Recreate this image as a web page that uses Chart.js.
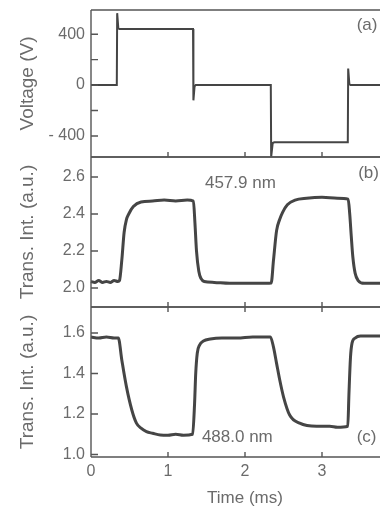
<!DOCTYPE html>
<html><head><meta charset="utf-8">
<script src="https://cdn.jsdelivr.net/npm/chart.js@4.4.0/dist/chart.umd.min.js"></script>
<style>
html,body{margin:0;padding:0;background:#fff;overflow:hidden;width:380px;height:511px;position:relative;}
canvas{position:absolute;left:0;}
</style></head><body>
<canvas id="ca" width="430" height="160" style="top:0px"></canvas>
<canvas id="cb" width="430" height="156" style="top:154px"></canvas>
<canvas id="cc" width="430" height="207" style="top:304px"></canvas>
<script>
// ---- data ----
const timeV   = [0, 0.335, 0.34, 0.355, 0.37, 1.325, 1.33, 1.345, 1.36, 2.335, 2.34, 2.36, 2.38, 3.335, 3.34, 3.355, 3.37, 4.0];
const voltage = [0, 0, 565, 445, 440, 440, -120, -10, 0, 0, -565, -455, -450, -450, 130, 10, 0, 0];

const timeB  = [0, 0.05, 0.1, 0.15, 0.2, 0.25, 0.3, 0.35, 0.37, 0.40, 0.43, 0.46, 0.49, 0.55, 0.65, 0.8, 0.95, 1.1, 1.25, 1.33, 1.35, 1.37, 1.40, 1.43, 1.47, 1.6, 1.8, 2.0, 2.2, 2.34, 2.37, 2.41, 2.45, 2.49, 2.55, 2.65, 2.8, 3.0, 3.2, 3.34, 3.36, 3.38, 3.40, 3.43, 3.47, 3.55, 3.7, 4.0];
const transB = [2.035, 2.03, 2.04, 2.03, 2.035, 2.03, 2.04, 2.035, 2.04, 2.15, 2.30, 2.37, 2.40, 2.44, 2.465, 2.47, 2.475, 2.47, 2.475, 2.47, 2.35, 2.2, 2.09, 2.05, 2.035, 2.03, 2.025, 2.025, 2.025, 2.027, 2.15, 2.31, 2.37, 2.41, 2.45, 2.475, 2.485, 2.49, 2.485, 2.48, 2.40, 2.28, 2.17, 2.08, 2.04, 2.025, 2.025, 2.025];

const timeC  = [0, 0.1, 0.2, 0.3, 0.355, 0.40, 0.46, 0.53, 0.59, 0.65, 0.72, 0.8, 0.9, 1.0, 1.1, 1.2, 1.32, 1.345, 1.36, 1.38, 1.41, 1.46, 1.55, 1.7, 1.9, 2.1, 2.33, 2.37, 2.41, 2.45, 2.50, 2.58, 2.71, 2.93, 3.1, 3.2, 3.335, 3.35, 3.37, 3.39, 3.43, 3.5, 3.7, 4.0];
const transC = [1.58, 1.575, 1.58, 1.575, 1.575, 1.467, 1.335, 1.22, 1.155, 1.13, 1.113, 1.105, 1.096, 1.095, 1.1, 1.095, 1.1, 1.25, 1.40, 1.50, 1.54, 1.56, 1.57, 1.575, 1.575, 1.58, 1.58, 1.53, 1.45, 1.37, 1.285, 1.195, 1.155, 1.14, 1.14, 1.135, 1.14, 1.30, 1.48, 1.55, 1.575, 1.585, 1.585, 1.585];

const xTicks = [0, 1, 2, 3];
const xTickLabels = ['0', '1', '2', '3'];
const vTicks = [-400, -200, 0, 200, 400];
const vTickLabels = ['- 400', '', '0', '', '400'];
const bTicks = [2.0, 2.2, 2.4, 2.6];
const bTickLabels = ['2.0', '2.2', '2.4', '2.6'];
const cTicks = [1.0, 1.2, 1.4, 1.6];
const cTickLabels = ['1.0', '1.2', '1.4', '1.6'];

// ---- styling ----
const FONT = "'Liberation Sans', Arial, Helvetica, sans-serif";
const TEXT = '#6b6b6b';
const LINE = '#454545';
const FRAME = '#555555';

const framePlugin = {
  id: 'frame',
  afterDraw(chart, args, o) {
    const {ctx, chartArea: a, scales} = chart;
    const x = scales.x, y = scales.y;
    ctx.save();
    ctx.strokeStyle = FRAME; ctx.lineWidth = 1.4;
    ctx.beginPath();
    ctx.moveTo(a.left, a.top); ctx.lineTo(a.right, a.top);
    ctx.moveTo(a.left, a.bottom); ctx.lineTo(a.right, a.bottom);
    ctx.moveTo(a.left, a.top); ctx.lineTo(a.left, a.bottom);
    y.ticks.forEach(t => { const py = y.getPixelForValue(t.value); ctx.moveTo(a.left, py); ctx.lineTo(a.left + 7, py); });
    xTicks.slice(1).forEach(v => {
      const px = x.getPixelForValue(v);
      ctx.moveTo(px, a.bottom); ctx.lineTo(px, a.bottom - 5);
      if (o.topTicks) { ctx.moveTo(px, a.top); ctx.lineTo(px, a.top + 5); }
    });
    ctx.stroke();
    ctx.fillStyle = TEXT;
    ctx.font = "17px " + FONT;
    ctx.textAlign = 'left'; ctx.textBaseline = 'middle';
    (o.notes || []).forEach(n => ctx.fillText(n.text, x.getPixelForValue(n.x), y.getPixelForValue(n.y)));
    ctx.restore();
  }
};

function pts(t, v) { return t.map((tt, i) => ({x: tt, y: v[i]})); }
function noPad(s) { s.paddingTop = 0; s.paddingBottom = 0; s.paddingLeft = 0; s.paddingRight = 0; }

function makeChart(id, opts) {
  const showX = !!opts.showX;
  return new Chart(document.getElementById(id), {
    type: 'line',
    data: { datasets: [{ data: pts(opts.t, opts.v), borderColor: LINE, borderWidth: opts.lw, pointRadius: 0,
      cubicInterpolationMode: opts.smooth ? 'monotone' : 'default', tension: 0 }] },
    plugins: [framePlugin],
    options: {
      responsive: false, animation: false, clip: false,
      layout: { padding: { top: opts.padTop, bottom: opts.padBottom, left: 0, right: 31 } },
      plugins: { legend: { display: false }, tooltip: { enabled: false }, frame: { topTicks: opts.topTicks, notes: opts.notes } },
      scales: {
        x: {
          type: 'linear', min: 0, max: 4, display: showX,
          afterBuildTicks: s => { s.ticks = xTicks.map(v => ({value: v})); },
          afterFit: s => { noPad(s); if (showX) s.height = 54; },
          grid: { display: false, drawTicks: false },
          border: { display: false },
          ticks: { autoSkip: false, maxRotation: 0, padding: 5, color: TEXT, font: { family: FONT, size: 16 },
            callback: (v, i) => xTickLabels[i] },
          title: { display: true, text: 'Time (ms)', color: TEXT, font: { family: FONT, size: 17 }, padding: { top: 0, bottom: 2 } }
        },
        y: {
          type: 'linear', min: opts.ymin, max: opts.ymax,
          afterBuildTicks: s => { s.ticks = opts.ticks.map(v => ({value: v})); },
          afterFit: s => { noPad(s); s.width = 91; },
          grid: { display: false, drawTicks: false },
          border: { display: false },
          ticks: { autoSkip: false, padding: 6, color: TEXT, font: { family: FONT, size: 16 },
            callback: (v, i) => opts.labels[i] },
          title: { display: true, text: opts.title, color: TEXT, font: { family: FONT, size: 19 }, padding: { top: 16, bottom: 0 } }
        }
      }
    }
  });
}

makeChart('ca', { t: timeV, v: voltage, lw: 2, smooth: false, padTop: 10, padBottom: 3,
  ymin: -565, ymax: 590, ticks: vTicks, labels: vTickLabels, title: 'Voltage (V)',
  notes: [{text: '(a)', x: 3.45, y: 470}] });
makeChart('cb', { t: timeB, v: transB, lw: 3, smooth: true, padTop: 3, padBottom: 3,
  ymin: 1.897, ymax: 2.708, ticks: bTicks, labels: bTickLabels, title: 'Trans. Int. (a.u.)',
  notes: [{text: '457.9 nm', x: 1.48, y: 2.568}, {text: '(b)', x: 3.47, y: 2.62}] });
makeChart('cc', { t: timeC, v: transC, lw: 3, smooth: true, padTop: 3, padBottom: 0, showX: true, topTicks: true,
  ymin: 0.988, ymax: 1.728, ticks: cTicks, labels: cTickLabels, title: 'Trans. Int. (a.u.)',
  notes: [{text: '488.0 nm', x: 1.44, y: 1.086}, {text: '(c)', x: 3.45, y: 1.086}] });
</script>
</body></html>
